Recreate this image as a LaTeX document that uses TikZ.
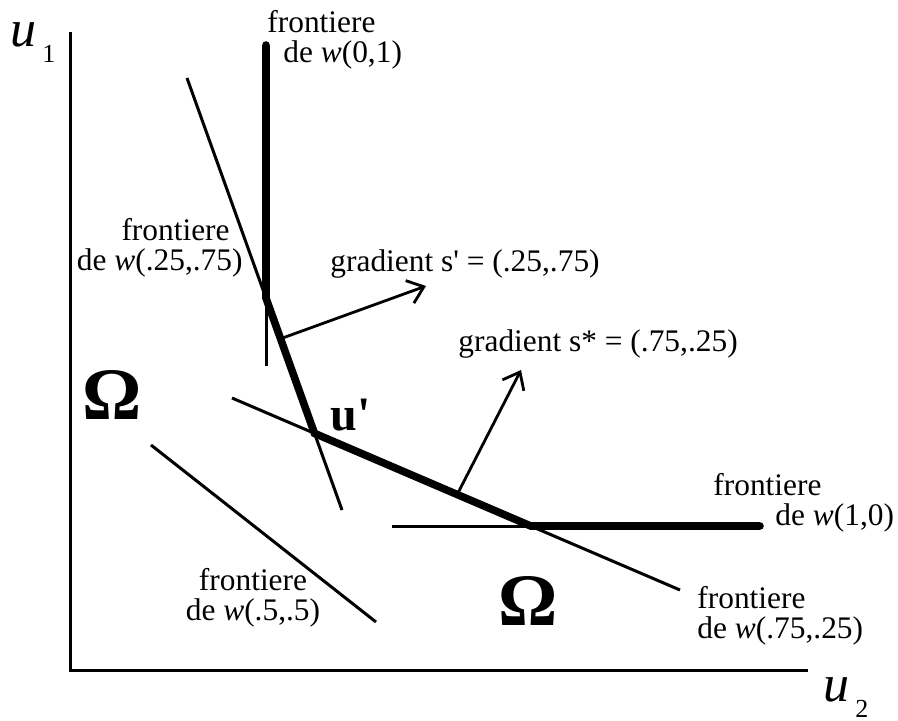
\documentclass[tikz,border=0pt]{standalone}
\usepackage{fontspec}
\setmainfont{Liberation Serif}
\usetikzlibrary{arrows.meta, calc}

\begin{document}
\begin{tikzpicture}[
  x=0.5pt, y=-0.5pt,
  axis/.style={line width=1.5pt},
  border/.style={line width=1.5pt},
  hull/.style={line width=3.8pt, line join=miter, line cap=round},
  grad/.style={-{Straight Barb[length=7.5pt, width=12pt]}, line width=1.4pt},
  lab/.style={inner sep=0pt, font=\fontsize{15.7}{15}\selectfont},
  omega/.style={inner sep=0pt, font=\fontsize{37}{37}\selectfont\bfseries}
]
  \useasboundingbox (0,0) rectangle (898,721);

  % axes
  \coordinate (o) at (70,670);
  \coordinate (ytop) at (70,32);
  \coordinate (xend) at (808,670);
  \draw[axis] (ytop) -- (o) -- (xend);
  \node[inner sep=0pt, anchor=base west] (u1) at (10,47) {{\fontsize{26}{26}\selectfont\textit{u}}\hspace{3pt}\raisebox{-8pt}{\fontsize{13}{13}\selectfont 1}};
  \node[inner sep=0pt, anchor=base west] (u2) at (823,701) {{\fontsize{26}{26}\selectfont\textit{u}}\hspace{3pt}\raisebox{-8pt}{\fontsize{13}{13}\selectfont 2}};

  % frontieres
  \coordinate (v1) at (266,45);
  \coordinate (v2) at (266,366);
  \coordinate (a1) at (187,78);
  \coordinate (a2) at (342,510);
  \coordinate (b1) at (232,398);
  \coordinate (b2) at (680,590);
  \coordinate (h1) at (392,526);
  \coordinate (h2) at (760,526);
  \coordinate (c1) at (151,445);
  \coordinate (c2) at (376,622);
  \coordinate (p1) at (intersection of v1--v2 and a1--a2);
  \coordinate (up) at (intersection of a1--a2 and b1--b2);
  \coordinate (p2) at (intersection of b1--b2 and h1--h2);

  \draw[border] (v1) -- (v2);
  \draw[border] (a1) -- (a2);
  \draw[border] (b1) -- (b2);
  \draw[border] (h1) -- (h2);
  \draw[border] (c1) -- (c2);
  \draw[hull] (v1) -- (p1) -- (up) -- (p2) -- (h2);

  % gradients
  \coordinate (g1) at ($(p1)!0.3!(up)$);
  \coordinate (g1e) at (426,286);
  \coordinate (g2) at ($(up)!0.66!(p2)$);
  \coordinate (g2e) at (521,370);
  \draw[grad] (g1) -- (g1e);
  \draw[grad] (g2) -- (g2e);

  % labels
  \node[lab, align=left, anchor=north west] (fv) at (267,10) {frontiere\\\hspace*{8pt}de \textit{w}(0,1)};
  \node[lab, align=right, anchor=north east] (fa) at (243,218) {frontiere\hspace*{6.5pt}\\de \textit{w}(.25,.75)};
  \node[lab, align=left, anchor=north west] (fh) at (713,473) {frontiere\\\hspace*{31pt}de \textit{w}(1,0)};
  \node[lab, align=left, anchor=north west] (fb) at (697,586) {frontiere\\de \textit{w}(.75,.25)};
  \node[lab, align=center, anchor=north] (fc) at (253,568) {frontiere\\de \textit{w}(.5,.5)};
  \node[lab, anchor=base west] (s1) at (330,272) {gradient s\textquotesingle\ = (.25,.75)};
  \node[lab, anchor=base west] (s2) at (458,351) {gradient s* = (.75,.25)};
  \node[inner sep=0pt, anchor=base west, font=\fontsize{24}{24}\selectfont\bfseries] (ul) at (330,430) {u\textquotesingle};
  \node[omega] (om1) at (112,395) {Ω};
  \node[omega] (om2) at (528,601) {Ω};
\end{tikzpicture}
\end{document}
